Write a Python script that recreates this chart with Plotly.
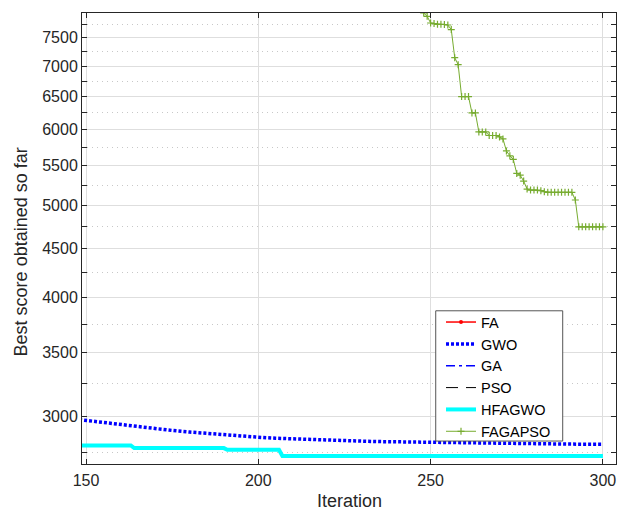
import math
import plotly.graph_objects as go

# Iteration window shown
x_range = [148.84, 303.8]
y_range_vals = [2673, 7960]

# Y-axis ticks (log scale)
y_major = [3000, 3500, 4000, 4500, 5000, 5500, 6000, 6500, 7000, 7500]
y_major_labels = [str(v) for v in y_major]
y_minor = [2750, 3250, 3750, 4250, 4750, 5250, 5750, 6250, 6750, 7250, 7750]
x_ticks = [150, 200, 250, 300]

# GWO convergence curve
gwo_iter = [148, 150, 155, 160, 165, 170, 175, 180, 185, 190, 195, 200, 205, 210,
            215, 220, 225, 230, 235, 240, 245, 250, 255, 260, 265, 270, 275, 280,
            285, 290, 295, 300]
gwo_best = [2976, 2970, 2955, 2940, 2925, 2911, 2899, 2888, 2878, 2869, 2860, 2852,
            2845, 2840, 2836, 2832, 2828, 2825, 2822, 2820, 2818, 2816, 2813, 2811,
            2809, 2808, 2807, 2806, 2805, 2805, 2804, 2804]

# HFAGWO convergence curve (step changes)
hfagwo_iter = [148, 163, 164, 190, 191, 206, 207, 300]
hfagwo_best = [2796, 2796, 2778, 2778, 2767, 2767, 2725, 2725]

# FAGAPSO convergence curve
fagapso_iter = list(range(247, 301))
fagapso_best = [8050, 7960, 7897, 7770, 7759, 7745, 7745, 7742, 7732, 7647,
                7145, 7025, 6503, 6503, 6503, 6250, 6250, 5970, 5970, 5970,
                5918, 5918, 5918, 5898, 5870, 5702, 5634, 5585, 5399, 5377,
                5300, 5199, 5186, 5186, 5186, 5178, 5165, 5158, 5158, 5158,
                5158, 5158, 5158, 5158, 5158, 5063, 4745, 4745, 4745, 4745,
                4745, 4745, 4745, 4745]

# FA, GA and PSO stay above the plotted window: legend entries only
fa_iter, fa_best = [None], [None]
ga_iter, ga_best = [None], [None]
pso_iter, pso_best = [None], [None]

FONT = "Liberation Sans, Arial, sans-serif"
INK = "#262626"

fig = go.Figure()
fig.add_trace(go.Scatter(x=fa_iter, y=fa_best, name="FA", mode="lines+markers",
                         line=dict(color="#ff0000", width=1.5),
                         marker=dict(symbol="circle", size=4, color="#ff0000")))
fig.add_trace(go.Scatter(x=gwo_iter, y=gwo_best, name="GWO", mode="lines",
                         line=dict(color="#0000ff", width=3.5, dash="3px,2px")))
fig.add_trace(go.Scatter(x=ga_iter, y=ga_best, name="GA", mode="lines",
                         line=dict(color="#0000ff", width=1.5, dash="9px,4px,3px,4px")))
fig.add_trace(go.Scatter(x=pso_iter, y=pso_best, name="PSO", mode="lines",
                         line=dict(color="#000000", width=1, dash="12px,8px")))
fig.add_trace(go.Scatter(x=hfagwo_iter, y=hfagwo_best, name="HFAGWO", mode="lines",
                         line=dict(color="#00ffff", width=4)))
fig.add_trace(go.Scatter(x=fagapso_iter, y=fagapso_best, name="FAGAPSO",
                         mode="lines+markers",
                         line=dict(color="#77ac30", width=1),
                         marker=dict(symbol="cross-thin", size=5,
                                     line=dict(color="#77ac30", width=1.2))))

tick_font = dict(family=FONT, size=16, color=INK)

fig.update_xaxes(
    range=x_range, tickvals=x_ticks, ticks="inside", ticklen=5,
    tickcolor=INK, showline=True, linecolor=INK, linewidth=1,
    mirror="ticks", showgrid=True, gridcolor="#dedede", gridwidth=1,
    zeroline=False, tickfont=tick_font, ticklabelstandoff=2,
)

fig.update_yaxes(
    type="log", range=[math.log10(y_range_vals[0]), math.log10(y_range_vals[1])],
    tickvals=y_major, ticktext=y_major_labels, ticks="inside", ticklen=5,
    tickcolor=INK, showline=True, linecolor=INK, linewidth=1,
    mirror="ticks", showgrid=True, gridcolor="#dedede", gridwidth=1,
    zeroline=False, tickfont=tick_font, ticklabelstandoff=0,
    minor=dict(tickvals=y_minor, ticks="inside", ticklen=5, tickcolor=INK,
               showgrid=True, gridcolor="#c8c8c8", griddash="1px,4px", gridwidth=1),
)

# Axis titles
fig.add_annotation(text="Iteration", xref="paper", yref="paper",
                   x=0.5, y=-0.0831, xanchor="center", yanchor="middle",
                   showarrow=False, font=dict(family=FONT, size=18, color=INK))
fig.add_annotation(text="Best score obtained so far", xref="paper", yref="paper",
                   x=-0.1137, y=0.4698, xanchor="center", yanchor="middle",
                   textangle=-90, showarrow=False,
                   font=dict(family=FONT, size=18, color=INK))

# Legend frame (white box with a grey border); the legend itself sits inside it
fig.add_shape(type="rect", xref="paper", yref="paper",
              x0=0.6624, x1=0.9002, y0=0.0509, y1=0.3397,
              fillcolor="#ffffff", line=dict(color="#555555", width=1),
              layer="above")

fig.update_layout(
    width=627, height=516,
    margin=dict(l=82, r=11, t=13, b=52),
    plot_bgcolor="#ffffff", paper_bgcolor="#ffffff",
    showlegend=True,
    legend=dict(x=0.6723, y=0.3501, xanchor="left", yanchor="top",
                bgcolor="rgba(0,0,0,0)", borderwidth=0,
                font=dict(family=FONT, size=14.5, color="#000000"),
                tracegroupgap=0, itemwidth=30),
)

fig.write_html("out.html")
